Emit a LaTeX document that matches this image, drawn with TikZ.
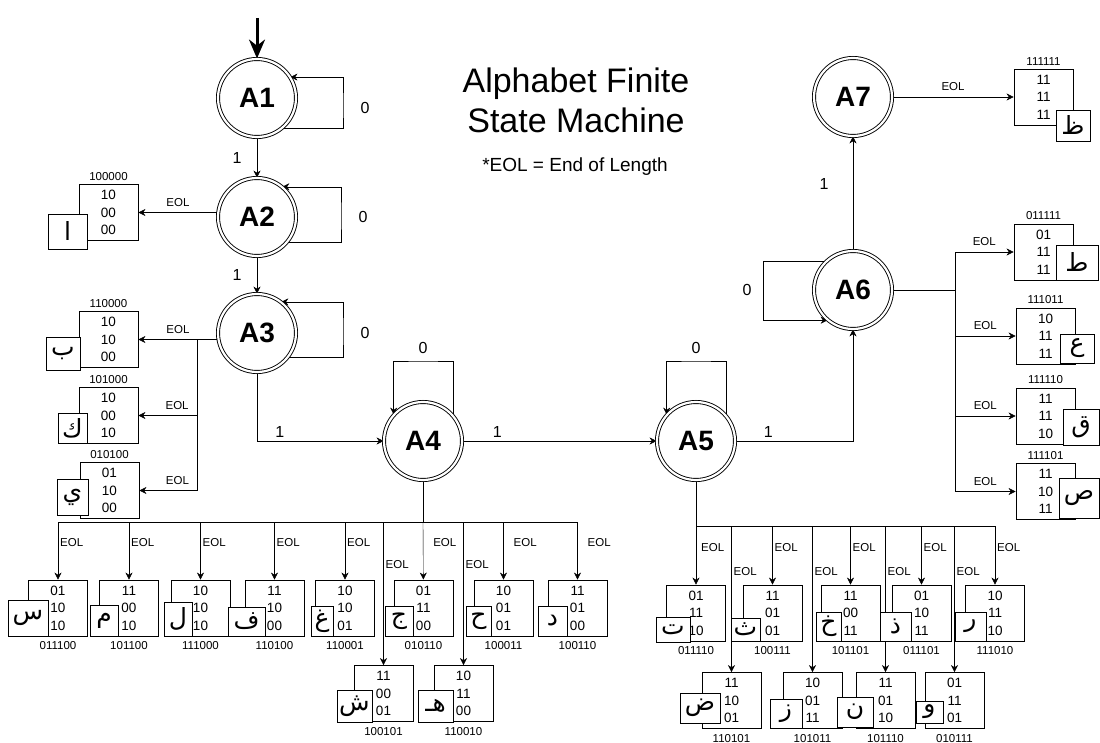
\documentclass[tikz,border=0pt]{standalone}
\usepackage{fontspec}
\setmainfont{Liberation Sans}
\newfontfamily\arabicfont[Script=Arabic]{DejaVu Sans}
\TeXXeTstate=1
\usetikzlibrary{positioning, arrows.meta}
\pgfdeclarelayer{background}
\pgfsetlayers{background,main}

\begin{document}
\begin{tikzpicture}[x=1pt, y=-1pt, >={Stealth[length=7pt, width=7pt]}, line width=0.9pt,
    state/.style={draw, circle, double, double distance=2.2pt, minimum size=78pt, inner sep=0pt, font=\fontsize{28}{28}\selectfont\bfseries},
    bits/.style={draw, fill=white, minimum width=59pt, minimum height=56pt, inner sep=0pt, align=center, font=\fontsize{13.5}{17.5}\selectfont},
    letter/.style={draw, fill=white, inner sep=0pt, font=\arabicfont\fontsize{25}{25}\selectfont},
    code/.style={inner sep=2pt, font=\fontsize{11.5}{11.5}\selectfont},
    eol/.style={inner sep=2pt, font=\fontsize{11.5}{11.5}\selectfont},
    sym/.style={font=\fontsize{16}{16}\selectfont}]
    \useasboundingbox (0,0) rectangle (1100,743);

    % title
    \node[align=center, font=\fontsize{34}{40}\selectfont] (title) at (576,100) {Alphabet Finite\\State Machine};
    \node[font=\fontsize{19}{19}\selectfont] (note) at (575,167) {*EOL = End of Length};

    % states
    \node[state] (a1) at (257,98) {A1};
    \node[state] (a2) at (257,217) {A2};
    \node[state] (a3) at (257,333) {A3};
    \node[state] (a4) at (423,441) {A4};
    \node[state] (a5) at (696,441) {A5};
    \node[state] (a6) at (853,290) {A6};
    \node[state] (a7) at (853,97) {A7};

    % letters left of A2 and A3
    \node[bits] (alif) at (108.5,212.5) {10\\00\\00};
    \node[letter, minimum width=39pt, minimum height=35pt] (alif-l) at (67.5,231.5) {\beginR ا\endR};
    \node[code, above=1pt of alif] (alif-c) {100000};
    \node[bits] (ba) at (108.5,339.5) {10\\10\\00};
    \node[letter, minimum width=34pt, minimum height=33pt] (ba-l) at (63,353.5) {\beginR ب\endR};
    \node[code, above=1pt of ba] (ba-c) {110000};
    \node[bits] (kaf) at (108.5,415.5) {10\\00\\10};
    \node[letter, minimum width=29pt, minimum height=30pt] (kaf-l) at (72.5,428) {\beginR ك\endR};
    \node[code, above=1pt of kaf] (kaf-c) {101000};
    \node[bits] (ya) at (109.5,490.5) {01\\10\\00};
    \node[letter, minimum width=31pt, minimum height=36pt] (ya-l) at (72.5,497) {\beginR ي\endR};
    \node[code, above=1pt of ya] (ya-c) {010100};

    % letters below A4
    \node[bits] (sin) at (58,608) {01\\10\\10};
    \node[letter, minimum width=40pt, minimum height=36pt] (sin-l) at (28,618) {\beginR س\endR};
    \node[code, below=3pt of sin] (sin-c) {011100};
    \node[bits] (mim) at (129,608) {11\\00\\10};
    \node[letter, minimum width=28pt, minimum height=31pt] (mim-l) at (104,620.5) {\beginR م\endR};
    \node[code, below=3pt of mim] (mim-c) {101100};
    \node[bits] (lam) at (200.5,608) {10\\10\\10};
    \node[letter, minimum width=28pt, minimum height=34pt] (lam-l) at (178,619) {\beginR ل\endR};
    \node[code, below=3pt of lam] (lam-c) {111000};
    \node[bits] (fa) at (274.5,608) {11\\10\\00};
    \node[letter, minimum width=37pt, minimum height=29pt] (fa-l) at (246.5,621.5) {\beginR ف\endR};
    \node[code, below=3pt of fa] (fa-c) {110100};
    \node[bits] (ghain) at (345,608) {10\\10\\01};
    \node[letter, minimum width=22pt, minimum height=30pt] (ghain-l) at (322,621) {\beginR غ\endR};
    \node[code, below=3pt of ghain] (ghain-c) {110001};
    \node[bits] (jim) at (423.5,608) {01\\11\\00};
    \node[letter, minimum width=28pt, minimum height=30pt] (jim-l) at (399,621) {\beginR ج\endR};
    \node[code, below=3pt of jim] (jim-c) {010110};
    \node[bits] (ha) at (503.5,608) {10\\01\\01};
    \node[letter, minimum width=25pt, minimum height=30pt] (ha-l) at (478.5,621) {\beginR ح\endR};
    \node[code, below=3pt of ha] (ha-c) {100011};
    \node[bits] (dal) at (577.5,608) {11\\01\\00};
    \node[letter, minimum width=29pt, minimum height=30pt] (dal-l) at (552.5,621) {\beginR د\endR};
    \node[code, below=3pt of dal] (dal-c) {100110};
    \node[bits] (shin) at (383.5,693.5) {11\\00\\01};
    \node[letter, minimum width=35pt, minimum height=32pt] (shin-l) at (354.5,706) {\beginR ش\endR};
    \node[code, below=3pt of shin] (shin-c) {100101};
    \node[bits] (heh) at (463.5,693.5) {10\\11\\00};
    \node[letter, minimum width=35pt, minimum height=32pt] (heh-l) at (435.5,706) {\beginR هـ\endR};
    \node[code, below=3pt of heh] (heh-c) {110010};

    % letters below A5
    \node[bits] (ta) at (696,613) {01\\11\\10};
    \node[letter, minimum width=34pt, minimum height=25pt] (ta-l) at (673,629.5) {\beginR ت\endR};
    \node[code, below=3pt of ta] (ta-c) {011110};
    \node[bits] (tha) at (772.5,613) {11\\01\\01};
    \node[letter, minimum width=29pt, minimum height=23pt] (tha-l) at (745.5,629.5) {\beginR ث\endR};
    \node[code, below=3pt of tha] (tha-c) {100111};
    \node[bits] (kha) at (850.5,613) {11\\00\\11};
    \node[letter, minimum width=25pt, minimum height=29pt] (kha-l) at (828.5,626.5) {\beginR خ\endR};
    \node[code, below=3pt of kha] (kha-c) {101101};
    \node[bits] (dhal) at (921.5,613) {01\\10\\11};
    \node[letter, minimum width=31pt, minimum height=29pt] (dhal-l) at (895.5,626.5) {\beginR ذ\endR};
    \node[code, below=3pt of dhal] (dhal-c) {011101};
    \node[bits] (ra) at (995,613) {10\\11\\10};
    \node[letter, minimum width=31pt, minimum height=29pt] (ra-l) at (970.5,626.5) {\beginR ر\endR};
    \node[code, below=3pt of ra] (ra-c) {111010};
    \node[bits] (dad) at (731.5,700.5) {11\\10\\01};
    \node[letter, minimum width=40pt, minimum height=30pt] (dad-l) at (700,708) {\beginR ض\endR};
    \node[code, below=3pt of dad] (dad-c) {110101};
    \node[bits] (zay) at (812.5,700.5) {10\\01\\11};
    \node[letter, minimum width=32pt, minimum height=29pt] (zay-l) at (786,713.5) {\beginR ز\endR};
    \node[code, below=3pt of zay] (zay-c) {101011};
    \node[bits] (nun) at (885.5,700.5) {11\\01\\10};
    \node[letter, minimum width=36pt, minimum height=30pt] (nun-l) at (855,712) {\beginR ن\endR};
    \node[code, below=3pt of nun] (nun-c) {101110};
    \node[bits] (waw) at (954.5,700.5) {01\\11\\01};
    \node[letter, minimum width=27pt, minimum height=22pt] (waw-l) at (929.5,712) {\beginR و\endR};
    \node[code, below=3pt of waw] (waw-c) {010111};

    % letters right of A6 and A7
    \node[bits] (zah) at (1043.5,97) {11\\11\\11};
    \node[letter, minimum width=34pt, minimum height=31pt] (zah-l) at (1073,125.5) {\beginR ظ\endR};
    \node[code, above=1pt of zah] (zah-c) {111111};
    \node[bits] (tah) at (1043.5,252) {01\\11\\11};
    \node[letter, minimum width=42pt, minimum height=35pt] (tah-l) at (1077,262.5) {\beginR ط\endR};
    \node[code, above=1pt of tah] (tah-c) {011111};
    \node[bits] (ain) at (1045.5,336) {10\\11\\11};
    \node[letter, minimum width=34pt, minimum height=29pt] (ain-l) at (1077,348.5) {\beginR ع\endR};
    \node[code, above=1pt of ain] (ain-c) {111011};
    \node[bits] (qaf) at (1045.5,416) {11\\11\\10};
    \node[letter, minimum width=36pt, minimum height=36pt] (qaf-l) at (1081,427) {\beginR ق\endR};
    \node[code, above=1pt of qaf] (qaf-c) {111110};
    \node[bits] (sad) at (1045.5,491.5) {11\\10\\11};
    \node[letter, minimum width=40pt, minimum height=40pt] (sad-l) at (1079,498) {\beginR ص\endR};
    \node[code, above=1pt of sad] (sad-c) {111101};

    \coordinate (start) at (257,18);
    \coordinate (l1) at (343,108);
    \coordinate (l2) at (341,217);
    \coordinate (l3) at (343,333);
    \coordinate (l4) at (423,361);
    \coordinate (l5) at (696,361);
    \coordinate (l6) at (763,290);
    \coordinate (j3) at (197,339.5);
    \coordinate (j6) at (955,290);
    \coordinate (b4) at (423,522);
    \coordinate (b5) at (696,526);

    \begin{pgfonlayer}{background}
    % transitions
    \draw[-{Stealth[length=19pt, width=16pt]}, line width=3pt] (start) -- (a1);
    \draw[->] (a1) -- node[left=12pt, sym] {1} (a2);
    \draw[->] (a2) -- node[left=12pt, sym] {1} (a3);
    \draw[->] (a3) |- node[pos=0.59, above, sym] {1} (a4);
    \draw[->] (a4) -- node[pos=0.18, above, sym] {1} (a5);
    \draw[->] (a5) -| node[pos=0.14, above, sym] {1} (a6);
    \draw[->] (a6) -- node[pos=0.58, left=21pt, sym] {1} (a7);

    % self loops
    \draw[->] (a1.-50) -| (l1) |- node[pos=0, right=14pt, sym] {0} (a1.32);
    \draw[->] (a2.-40) -| (l2) |- node[pos=0, right=14pt, sym] {0} (a2.50);
    \draw[->] (a3.-38) -| (l3) |- node[pos=0, right=14pt, sym] {0} (a3.52);
    \draw[->] (a4.40) |- (l4) -| node[pos=0, above=4pt, sym] {0} (a4.138);
    \draw[->] (a5.40) |- (l5) -| node[pos=0, above=4pt, sym] {0} (a5.138);
    \draw[->] (a6.134) -| (l6) |- node[pos=0, left=8pt, sym] {0} (a6.230);

    % end of length
    \draw[->] (a2.west |- alif.east) -- node[above=4pt, eol] {EOL} (alif.east);
    \draw[->] (a3.west |- ba.east) -- node[above=4pt, eol] {EOL} (ba.east);
    \draw[->] (j3) |- node[pos=0.67, above=4pt, eol] {EOL} (kaf.east);
    \draw[->] (j3) |- node[pos=0.67, above=4pt, eol] {EOL} (ya.east);

    \draw (a4) -- (b4);
    \draw (b4 -| sin) -- (b4 -| dal);
    \draw[->] (b4 -| sin) -- node[pos=0.36, right, eol] {EOL} (sin);
    \draw[->] (b4 -| mim) -- node[pos=0.36, right, eol] {EOL} (mim);
    \draw[->] (b4 -| lam) -- node[pos=0.36, right, eol] {EOL} (lam);
    \draw[->] (b4 -| fa) -- node[pos=0.36, right, eol] {EOL} (fa);
    \draw[->] (b4 -| ghain) -- node[pos=0.36, right, eol] {EOL} (ghain);
    \draw[->] (b4) -- node[pos=0.36, right=8pt, eol] {EOL} (jim);
    \draw[->] (b4 -| ha) -- node[pos=0.36, right=8pt, eol] {EOL} (ha);
    \draw[->] (b4 -| dal) -- node[pos=0.36, right=8pt, eol] {EOL} (dal);
    \draw[->] (b4 -| shin) -- node[pos=0.3, right, eol] {EOL} (shin);
    \draw[->] (b4 -| heh) -- node[pos=0.3, right, eol] {EOL} (heh);

    \draw (a5) -- (b5);
    \draw (b5) -- (b5 -| ra);
    \draw[->] (b5) -- node[pos=0.36, right=3pt, eol] {EOL} (ta);
    \draw[->] (b5 -| tha) -- node[pos=0.36, right, eol] {EOL} (tha);
    \draw[->] (b5 -| kha) -- node[pos=0.36, right, eol] {EOL} (kha);
    \draw[->] (b5 -| dhal) -- node[pos=0.36, right, eol] {EOL} (dhal);
    \draw[->] (b5 -| ra) -- node[pos=0.36, right, eol] {EOL} (ra);
    \draw[->] (b5 -| dad) -- node[pos=0.31, right, eol] {EOL} (dad);
    \draw[->] (b5 -| zay) -- node[pos=0.31, right, eol] {EOL} (zay);
    \draw[->] (b5 -| nun) -- node[pos=0.31, right, eol] {EOL} (nun);
    \draw[->] (b5 -| waw) -- node[pos=0.31, right, eol] {EOL} (waw);

    \draw (a6) -- (j6);
    \draw[->] (j6) |- node[pos=0.75, above=4pt, eol] {EOL} (tah.west);
    \draw[->] (j6) |- node[pos=0.75, above=4pt, eol] {EOL} (ain.west);
    \draw[->] (j6) |- node[pos=0.75, above=4pt, eol] {EOL} (qaf.west);
    \draw[->] (j6) |- node[pos=0.75, above=4pt, eol] {EOL} (sad.west);
    \draw[->] (a7) -- node[above=4pt, eol] {EOL} (zah);
    \end{pgfonlayer}
\end{tikzpicture}
\end{document}
